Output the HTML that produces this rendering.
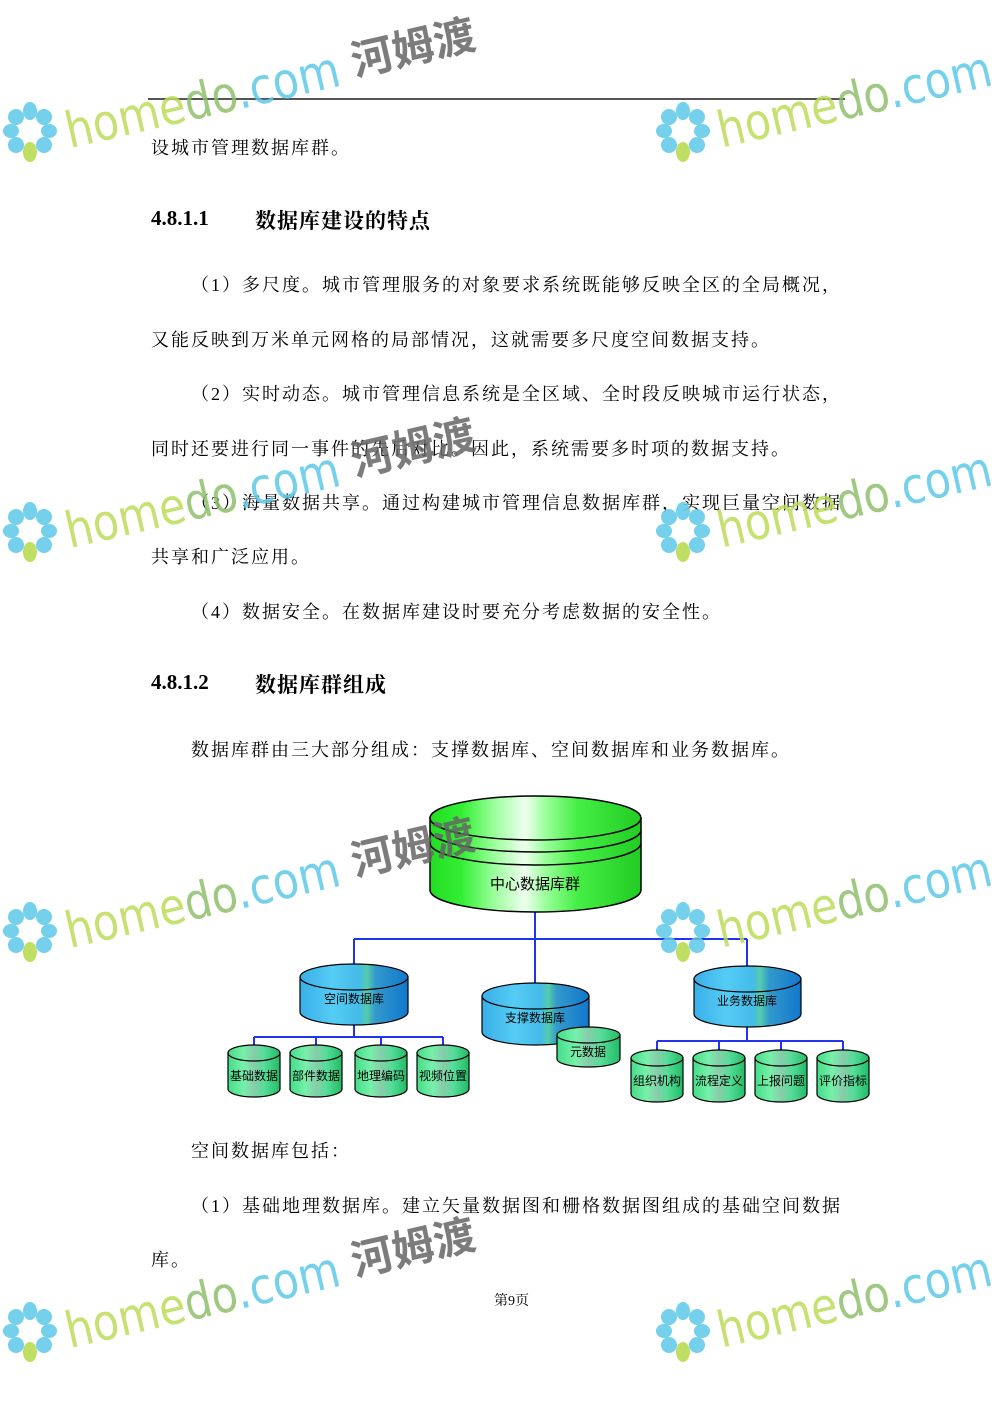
<!DOCTYPE html>
<html><head><meta charset="utf-8"><style>
html,body{margin:0;padding:0;background:#fff}
body{width:992px;height:1403px;position:relative;overflow:hidden;font-family:"Liberation Serif","Noto Serif CJK SC",serif;color:#000}
.t{position:absolute;font-size:18px;white-space:nowrap;line-height:20px;letter-spacing:2px}
.h{position:absolute;font-size:21px;font-weight:bold;white-space:nowrap;font-family:"Liberation Serif","Noto Serif CJK SC",serif}
svg{position:absolute;left:0;top:0}
</style></head><body>
<div style="position:absolute;left:148px;top:98px;width:697px;height:2px;background:#555"></div>
<div class="t" style="left:151px;top:138px">设城市管理数据库群。</div>
<div class="h" style="left:151px;top:206px">4.8.1.1</div><div class="h" style="left:255px;top:205px;letter-spacing:1px">数据库建设的特点</div>
<div class="t" style="left:191px;top:275px">（1）多尺度。城市管理服务的对象要求系统既能够反映全区的全局概况，</div>
<div class="t" style="left:151px;top:330px">又能反映到万米单元网格的局部情况，这就需要多尺度空间数据支持。</div>
<div class="t" style="left:191px;top:384px">（2）实时动态。城市管理信息系统是全区域、全时段反映城市运行状态，</div>
<div class="t" style="left:151px;top:439px">同时还要进行同一事件的先后对比。因此，系统需要多时项的数据支持。</div>
<div class="t" style="left:191px;top:493px">（3）海量数据共享。通过构建城市管理信息数据库群，实现巨量空间数据</div>
<div class="t" style="left:151px;top:547px">共享和广泛应用。</div>
<div class="t" style="left:191px;top:602px">（4）数据安全。在数据库建设时要充分考虑数据的安全性。</div>
<div class="h" style="left:151px;top:670px">4.8.1.2</div><div class="h" style="left:255px;top:669px;letter-spacing:1px">数据库群组成</div>
<div class="t" style="left:191px;top:740px">数据库群由三大部分组成：支撑数据库、空间数据库和业务数据库。</div>
<div class="t" style="left:191px;top:1141px">空间数据库包括：</div>
<div class="t" style="left:191px;top:1196px">（1）基础地理数据库。建立矢量数据图和栅格数据图组成的基础空间数据</div>
<div class="t" style="left:151px;top:1250px">库。</div>
<div class="t" style="left:494px;top:1292px;font-size:14px;letter-spacing:0">第9页</div>

<svg width="992" height="1403" viewBox="0 0 992 1403">
<defs>
<linearGradient id="gc" x1="0" x2="1">
<stop offset="0" stop-color="#22dd22"/><stop offset=".15" stop-color="#33ee33"/><stop offset=".3" stop-color="#99ff99"/><stop offset=".45" stop-color="#eeffee"/><stop offset=".55" stop-color="#99ff99"/><stop offset=".7" stop-color="#44ee44"/><stop offset="1" stop-color="#22cc22"/></linearGradient>
<linearGradient id="gb" x1="0" x2="1">
<stop offset="0" stop-color="#3aaee8"/><stop offset=".3" stop-color="#55ccf5"/><stop offset=".55" stop-color="#44bbe8"/><stop offset=".62" stop-color="#55ccaa"/><stop offset=".7" stop-color="#3399cc"/><stop offset="1" stop-color="#1177cc"/></linearGradient>
<linearGradient id="gg" x1="0" x2="1">
<stop offset="0" stop-color="#44dd88"/><stop offset=".3" stop-color="#77f0aa"/><stop offset=".5" stop-color="#88ccaa"/><stop offset=".7" stop-color="#55dd99"/><stop offset="1" stop-color="#22bb66"/></linearGradient>
</defs>
<g fill="none" stroke="#2233ee" stroke-width="2">
<path d="M535 912V983M354 939H747M354 939V964M747 939V966"/>
<path d="M354 1025V1037M254 1037H443M254 1037V1045M316 1037V1045M381 1037V1045M443 1037V1045"/>
<path d="M747 1027V1041M657 1041H843M657 1041V1050M719 1041V1050M781 1041V1050M843 1041V1050"/>
</g>
<g stroke="#000" stroke-width="1.5">
<path d="M430 818V890A105.5 22 0 0 0 641 890V818Z" fill="url(#gc)"/>
<ellipse cx="535.5" cy="818" rx="105.5" ry="22" fill="url(#gc)"/>
<path d="M430 830A105.5 22 0 0 0 641 830M430 843A105.5 22 0 0 0 641 843" fill="none"/>
</g>
<text x="535" y="889" font-size="15" text-anchor="middle" font-family="Liberation Sans,Noto Sans CJK SC,sans-serif">中心数据库群</text>
<g stroke="#000" stroke-width="1.2">
<path d="M300 977V1012A54 13 0 0 0 408 1012V977Z" fill="url(#gb)"/><ellipse cx="354" cy="977" rx="54" ry="13" fill="url(#gb)"/>
<path d="M482 996V1032A53.5 13 0 0 0 589 1032V996Z" fill="url(#gb)"/><ellipse cx="535.5" cy="996" rx="53.5" ry="13" fill="url(#gb)"/>
<path d="M694 979V1014A53.5 13 0 0 0 801 1014V979Z" fill="url(#gb)"/><ellipse cx="747.5" cy="979" rx="53.5" ry="13" fill="url(#gb)"/>
<path d="M557 1035V1059A31.5 8 0 0 0 620 1059V1035Z" fill="url(#gg)"/><ellipse cx="588.5" cy="1035" rx="31.5" ry="8" fill="url(#gg)"/>
</g>
<g stroke="#000" stroke-width="1.2" fill="url(#gg)">
<path d="M228 1053V1089A26 8 0 0 0 280 1089V1053Z"/><ellipse cx="254" cy="1053" rx="26" ry="8"/>
<path d="M290 1053V1089A26 8 0 0 0 342 1089V1053Z"/><ellipse cx="316" cy="1053" rx="26" ry="8"/>
<path d="M355 1053V1089A26 8 0 0 0 407 1089V1053Z"/><ellipse cx="381" cy="1053" rx="26" ry="8"/>
<path d="M417 1053V1089A26 8 0 0 0 469 1089V1053Z"/><ellipse cx="443" cy="1053" rx="26" ry="8"/>
<path d="M631 1058V1094A26 8 0 0 0 683 1094V1058Z"/><ellipse cx="657" cy="1058" rx="26" ry="8"/>
<path d="M693 1058V1094A26 8 0 0 0 745 1094V1058Z"/><ellipse cx="719" cy="1058" rx="26" ry="8"/>
<path d="M755 1058V1094A26 8 0 0 0 807 1094V1058Z"/><ellipse cx="781" cy="1058" rx="26" ry="8"/>
<path d="M817 1058V1094A26 8 0 0 0 869 1094V1058Z"/><ellipse cx="843" cy="1058" rx="26" ry="8"/>
</g>
<g font-size="12" text-anchor="middle" font-family="Liberation Sans,Noto Sans CJK SC,sans-serif">
<text x="354" y="1003">空间数据库</text><text x="535" y="1022">支撑数据库</text><text x="747" y="1005">业务数据库</text>
<text x="588" y="1056">元数据</text>
<text x="254" y="1080">基础数据</text><text x="316" y="1080">部件数据</text><text x="381" y="1080">地理编码</text><text x="443" y="1080">视频位置</text>
<text x="657" y="1085">组织机构</text><text x="719" y="1085">流程定义</text><text x="781" y="1085">上报问题</text><text x="843" y="1085">评价指标</text>
</g>
<g id="wm" font-family="DejaVu Sans,sans-serif" opacity="0.85">
<g transform="translate(30,130)" fill="#5cc8e8">
<ellipse cx="0" cy="-19" rx="7" ry="9"/><ellipse cx="14" cy="-13" rx="8" ry="8"/><ellipse cx="19" cy="1" rx="8" ry="7"/><ellipse cx="14" cy="15" rx="8" ry="8"/><ellipse cx="-14" cy="15" rx="8" ry="8"/><ellipse cx="-19" cy="1" rx="8" ry="7"/><ellipse cx="-14" cy="-13" rx="8" ry="8"/>
<ellipse cx="0" cy="22" rx="7" ry="10" fill="#b5d94a"/></g>
<g transform="rotate(-13 70 140)"><text x="68" y="148" font-size="50" fill="#bddc5a" textLength="280" lengthAdjust="spacingAndGlyphs">home<tspan fill="#8fbf6a">do</tspan><tspan fill="#5cc8e8">.com</tspan></text>
<text x="362" y="142" font-size="42" font-weight="bold" fill="#666" font-family="Noto Sans CJK SC,sans-serif">河姆渡</text></g>
<g transform="translate(683,130)" fill="#5cc8e8">
<ellipse cx="0" cy="-19" rx="7" ry="9"/><ellipse cx="14" cy="-13" rx="8" ry="8"/><ellipse cx="19" cy="1" rx="8" ry="7"/><ellipse cx="14" cy="15" rx="8" ry="8"/><ellipse cx="-14" cy="15" rx="8" ry="8"/><ellipse cx="-19" cy="1" rx="8" ry="7"/><ellipse cx="-14" cy="-13" rx="8" ry="8"/>
<ellipse cx="0" cy="22" rx="7" ry="10" fill="#b5d94a"/></g>
<g transform="rotate(-13 720 140)"><text x="720" y="148" font-size="50" fill="#bddc5a" textLength="280" lengthAdjust="spacingAndGlyphs">home<tspan fill="#8fbf6a">do</tspan><tspan fill="#5cc8e8">.com</tspan></text></g>
</g>
<use href="#wm" y="400"/><use href="#wm" y="800"/><use href="#wm" y="1200"/>
</svg>
</body></html>
